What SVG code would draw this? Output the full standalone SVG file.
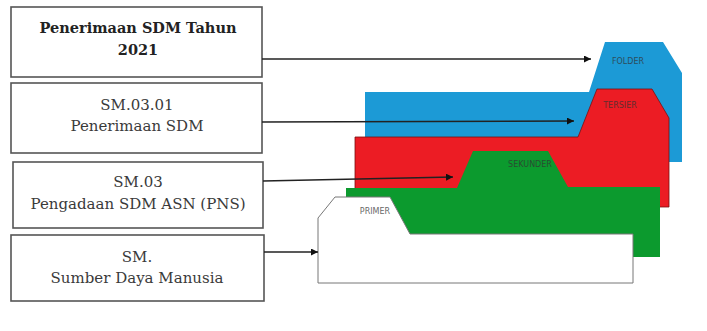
<svg xmlns="http://www.w3.org/2000/svg" width="707" height="331" viewBox="0 0 707 331">
<defs>
<style>
.box{fill:#fff;stroke:#555;stroke-width:1.6}
.t{font-family:"DejaVu Serif",serif;font-size:15px;fill:#3a3a3a;text-anchor:middle}
.tb{font-family:"DejaVu Serif",serif;font-size:14.5px;font-weight:bold;fill:#222;text-anchor:middle}
.lbl{font-family:"DejaVu Sans",sans-serif;font-size:8px;fill:#333;text-anchor:middle;opacity:0.75}
.con{stroke:#222;stroke-width:1.5;fill:none}
</style>
<marker id="ah" viewBox="0 0 10 10" refX="10" refY="5" markerWidth="7" markerHeight="7" markerUnits="userSpaceOnUse" orient="auto">
<path d="M0,0 L10,5 L0,10 z" fill="#111"/>
</marker>
</defs>
<rect width="707" height="331" fill="#fff"/>
<g id="folder">
<path d="M365,92 L589,92 L605,42 L663,42 L682,73 L682,162 L365,162 z" fill="#1c9ad6"/>
<text class="lbl" x="628" y="64">FOLDER</text>
</g>
<g id="tersier">
<path d="M355,137 L578,137 L597,89 L652,89 L669,118 L669,207 L355,207 z" fill="#ec1c24" stroke="#7a1010" stroke-width="0.8"/>
<text class="lbl" x="620" y="108" fill="#a01010">TERSIER</text>
</g>
<g id="sekunder">
<path d="M346,188 L457,188 L473,151 L548,151 L568,187 L660,187 L660,257 L346,257 z" fill="#0c9a2e"/>
<text class="lbl" x="530" y="167">SEKUNDER</text>
</g>
<g id="primer">
<path d="M318,283 L318,218 L335,197 L390,197 L410,234 L633,234 L633,283 z" fill="#fff" stroke="#777" stroke-width="1"/>
<text class="lbl" x="375" y="214">PRIMER</text>
</g>
<g id="box1">
<rect class="box" x="11" y="7" width="251" height="70"/>
<text class="tb" x="138" y="33">Penerimaan SDM Tahun</text>
<text class="tb" x="138" y="55">2021</text>
</g>
<g id="box2">
<rect class="box" x="11" y="83" width="251" height="70"/>
<text class="t" x="137" y="110">SM.03.01</text>
<text class="t" x="137" y="131">Penerimaan SDM</text>
</g>
<g id="box3">
<rect class="box" x="13" y="162" width="250" height="66"/>
<text class="t" x="138" y="187">SM.03</text>
<text class="t" x="138" y="209">Pengadaan SDM ASN (PNS)</text>
</g>
<g id="box4">
<rect class="box" x="11" y="235" width="253" height="66"/>
<text class="t" x="137" y="262">SM.</text>
<text class="t" x="137" y="283">Sumber Daya Manusia</text>
</g>
<g id="connectors">
<line class="con" x1="262" y1="59" x2="591" y2="59" marker-end="url(#ah)"/>
<line class="con" x1="262" y1="122" x2="574" y2="121" marker-end="url(#ah)"/>
<line class="con" x1="263" y1="181" x2="453" y2="177" marker-end="url(#ah)"/>
<line class="con" x1="264" y1="252" x2="318" y2="252" marker-end="url(#ah)"/>
</g>
</svg>
